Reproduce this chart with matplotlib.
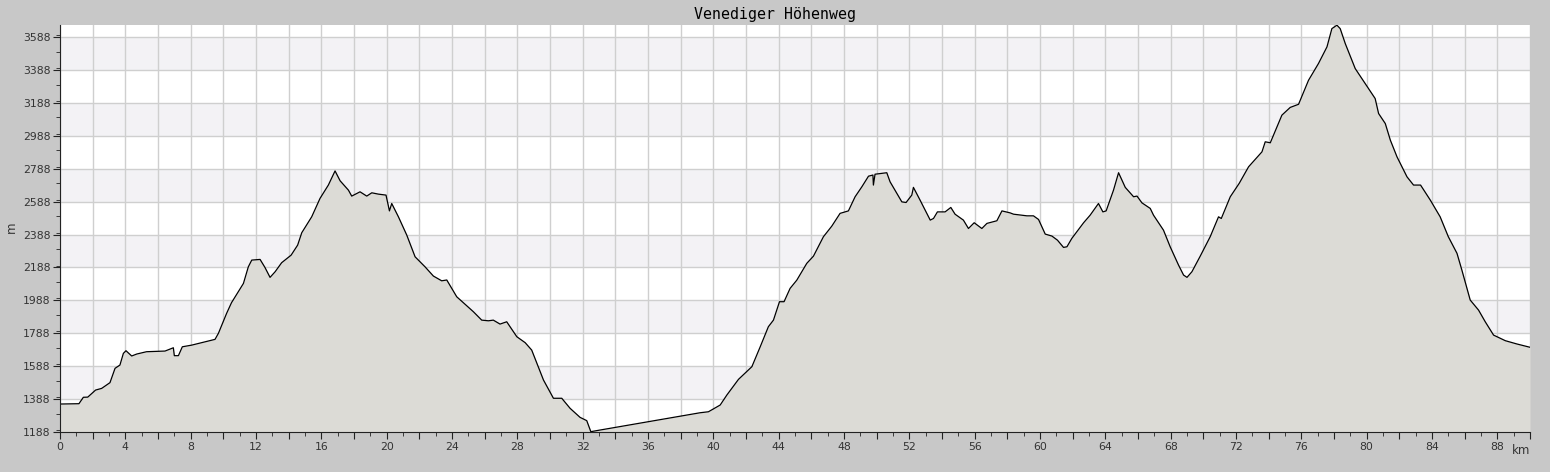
import matplotlib.pyplot as plt
from matplotlib.ticker import MultipleLocator, FuncFormatter

# distance (km) and elevation (m)
km = [0.0, 1.16, 1.43, 1.7, 2.18, 2.55, 3.06, 3.37, 3.67, 3.88, 4.04, 4.39, 4.7, 5.3,
      6.43, 6.94, 7.0, 7.25, 7.49, 8.06, 8.68, 9.49, 9.7, 10.2, 10.5, 11.23, 11.53,
      11.74, 12.25, 12.55, 12.86, 13.17, 13.57, 14.15, 14.55, 14.8, 15.41, 15.92,
      16.43, 16.84, 17.15, 17.66, 17.86, 18.37, 18.78, 19.09, 19.49, 19.96, 20.17,
      20.31, 20.72, 21.23, 21.74, 22.35, 22.86, 23.37, 23.68, 24.29, 25.31, 25.82,
      26.23, 26.53, 26.94, 27.35, 27.97, 28.48, 28.88, 29.6, 30.21, 30.72, 31.23,
      31.84, 32.25, 32.5, 33.07, 39.19, 39.7, 40.42, 40.83, 41.54, 42.36, 42.87,
      43.37, 43.68, 44.05, 44.33, 44.7, 45.11, 45.72, 46.13, 46.74, 47.25, 47.76,
      48.27, 48.68, 49.09, 49.5, 49.77, 49.8, 49.9, 50.62, 50.82, 51.54, 51.8,
      52.15, 52.25, 52.66, 53.28, 53.48, 53.72, 54.19, 54.54, 54.8, 55.31, 55.62,
      55.97, 56.44, 56.75, 57.36, 57.67, 58.17, 58.38, 59.2, 59.6, 59.91, 60.32,
      60.73, 61.07, 61.44, 61.65, 61.95, 62.67, 63.07, 63.58, 63.85, 64.05, 64.5,
      64.81, 65.22, 65.73, 65.94, 66.24, 66.75, 66.95, 67.56, 67.97, 68.48, 68.79,
      69.0, 69.3, 69.81, 70.42, 70.93, 71.1, 71.65, 72.2, 72.77, 73.59, 73.79, 74.1,
      74.81, 75.32, 75.83, 76.44, 77.05, 77.57, 77.87, 78.18, 78.38, 78.69, 79.3,
      79.91, 80.52, 80.73, 81.14, 81.45, 81.86, 82.47, 82.87, 83.3, 83.9, 84.5,
      85.0, 85.53, 85.83, 86.34, 86.85, 87.26, 87.77, 88.49, 89.2, 90.0]
elev = [1358, 1360, 1399, 1400, 1443, 1453, 1488, 1575, 1595, 1666, 1682, 1650, 1662, 1676,
        1680, 1700, 1652, 1652, 1706, 1716, 1731, 1751, 1788, 1909, 1974, 2091, 2192,
        2233, 2237, 2188, 2128, 2162, 2217, 2263, 2324, 2399, 2496, 2608,
        2689, 2775, 2715, 2658, 2622, 2648, 2622, 2642, 2634, 2628, 2532,
        2577, 2496, 2385, 2253, 2192, 2136, 2107, 2112, 2010, 1919, 1868,
        1864, 1868, 1844, 1858, 1767, 1731, 1686, 1504, 1393, 1393, 1332,
        1277, 1257, 1190, 1200, 1305, 1311, 1352, 1413, 1508, 1585, 1706,
        1828, 1868, 1980, 1980, 2061, 2111, 2213, 2257, 2375, 2439, 2517,
        2532, 2618, 2678, 2743, 2750, 2689, 2755, 2764, 2709, 2587, 2583,
        2628, 2675, 2597, 2476, 2486, 2526, 2526, 2553, 2512, 2476, 2425,
        2460, 2425, 2456, 2472, 2532, 2520, 2512, 2502, 2502, 2480, 2391,
        2379, 2354, 2310, 2314, 2365, 2460, 2506, 2577, 2526, 2532, 2658,
        2764, 2675, 2618, 2622, 2581, 2547, 2506, 2415, 2314, 2203, 2142,
        2128, 2162, 2257, 2375, 2496, 2486, 2618, 2700, 2800, 2891, 2952, 2946,
        3114, 3161, 3180, 3326, 3428, 3529, 3640, 3661, 3640, 3549, 3397,
        3306, 3215, 3124, 3063, 2962, 2860, 2739, 2689, 2689, 2597, 2496,
        2375, 2274, 2172, 1990, 1929, 1858, 1777, 1743, 1723, 1703]

y_ticks = [1188, 1388, 1588, 1788, 1988, 2188, 2388, 2588, 2788, 2988, 3188, 3388, 3588]
y_min, y_max = 1188, 3662

fig = plt.figure(figsize=(15.5, 4.72), dpi=100, facecolor='#c8c8c8')
ax = fig.add_axes([60 / 1550, 40 / 472, 1470 / 1550, 407 / 472])
ax.set_facecolor('white')

# alternating horizontal bands
for i in range(1, len(y_ticks), 2):
    ax.axhspan(y_ticks[i], y_ticks[i + 1] if i + 1 < len(y_ticks) else y_max,
               color='#f3f2f5', lw=0, zorder=0)

ax.fill_between(km, elev, y_min, color='#dcdbd6', lw=0, zorder=2)
ax.plot(km, elev, color='black', lw=0.9, zorder=3)

ax.set_xlim(0, 90)
ax.set_ylim(y_min, y_max)
ax.set_yticks(y_ticks)
ax.yaxis.set_minor_locator(MultipleLocator(100))
ax.xaxis.set_major_locator(MultipleLocator(2))
ax.xaxis.set_minor_locator(MultipleLocator(1))
ax.xaxis.set_major_formatter(FuncFormatter(lambda v, p: f'{int(v)}' if int(v) % 4 == 0 else ''))

ax.grid(True, which='major', color='#cfcfcf', lw=1, zorder=1)
ax.set_axisbelow(True)
for s in ['top', 'right']:
    ax.spines[s].set_visible(False)
for s in ['left', 'bottom']:
    ax.spines[s].set_color('#222222')
    ax.spines[s].set_zorder(5)

ax.tick_params(which='major', length=5, color='#222222', labelsize=7.8, labelcolor='#333333', pad=2)
ax.tick_params(which='minor', length=3, color='#222222')

fig.text(775 / 1550, 1 - 14 / 472, 'Venediger Höhenweg', ha='center', va='center',
         family='DejaVu Sans Mono', fontsize=10.7, color='black')
fig.text(11 / 1550, 1 - 227 / 472, 'm', ha='center', va='center', rotation=90,
         fontsize=8.5, color='#333333')
fig.text(1521 / 1550, 1 - 451 / 472, 'km', ha='center', va='center', fontsize=8.5, color='#333333')

fig.savefig('out.png', dpi=100, facecolor=fig.get_facecolor())
